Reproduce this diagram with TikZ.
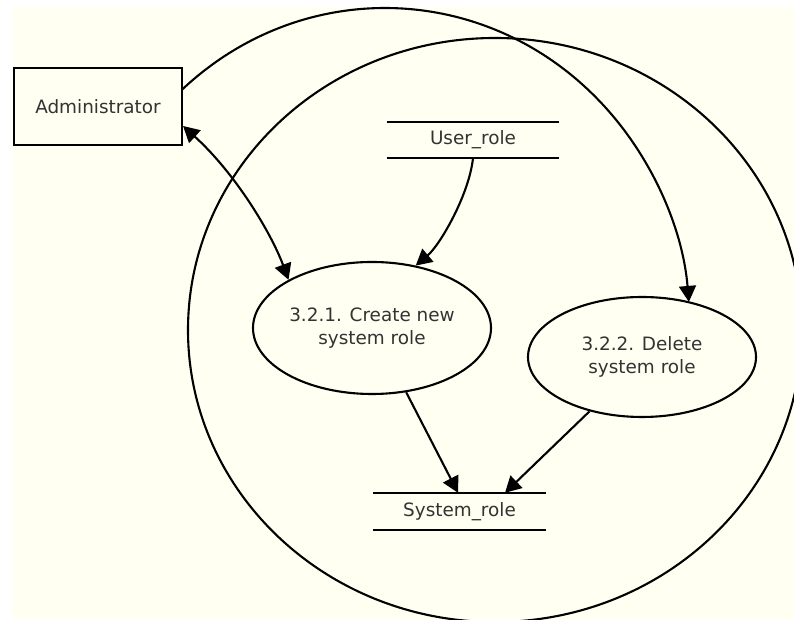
\documentclass[tikz,border=0pt]{standalone}
\usepackage{fontspec}
\setmainfont{DejaVu Sans}
\usetikzlibrary{arrows.meta,shapes.geometric}
\definecolor{cream}{RGB}{255,255,242}
\definecolor{txt}{RGB}{51,51,51}
\tikzset{
  ln/.style={line width=2.1pt, draw=black},
  tip/.style={-{Triangle[length=16pt,width=17pt]}},
  bitip/.style={{Triangle[length=16pt,width=17pt]}-{Triangle[length=16pt,width=17pt]}},
  lbl/.style={font=\fontsize{18.4}{23.3}\selectfont, align=center, inner sep=0pt},
  entity/.style={ln, lbl, text=txt, rectangle, minimum width=168pt, minimum height=77pt},
  proc/.style={ln, lbl, text=txt, ellipse},
  store/.style={lbl, text=txt, rectangle}
}
\begin{document}
\begin{tikzpicture}[x=1pt,y=1pt]
\useasboundingbox (0,0) rectangle (794,620);
\clip (0,0) rectangle (794,620);
\fill[white] (0,0) rectangle (794,620);
\fill[cream] (13,0) rectangle (794,613);

% nodes
\node[entity] (admin) at (98,513.5) {Administrator};
\node[store, minimum width=172pt, minimum height=36pt] (user) at (473,480) {User\_role};
\node[store, minimum width=173pt, minimum height=37pt] (sys) at (459.5,108.5) {System\_role};
\node[proc, minimum width=238pt, minimum height=132pt] (create) at (372,292) {3.2.1. Create new\\system role};
\node[proc, minimum width=228pt, minimum height=120pt] (delete) at (642,263) {3.2.2. Delete\\system role};

% store lines
\draw[ln] (user.north west) -- (user.north east);
\draw[ln] (user.south west) -- (user.south east);
\draw[ln] (sys.north west) -- (sys.north east);
\draw[ln] (sys.south west) -- (sys.south east);

% big loop
\coordinate (cB) at (495,290);
\draw[ln] (cB) ellipse [x radius=307pt, y radius=292pt];

% Administrator -> Delete (large arc)
\coordinate (cA) at (385,290);
\draw[ln, tip] ([shift={(131.7:305pt and 322pt)}]cA) arc[start angle=131.7, end angle=5, x radius=305pt, y radius=322pt];

% Administrator <-> Create
\draw[ln, bitip] ([yshift=-19.5pt]admin.east) .. controls (235,447) and (271,387.5) .. (create.150);

% User_role -> Create
\draw[ln, tip] (user.south) .. controls (469,425) and (440,375) .. (create.55);

% Create -> System_role, Delete -> System_role
\draw[ln, tip] (create.-62.7) -- ([xshift=-1.5pt]sys.north);
\draw[ln, tip] (delete.-134.5) -- ([xshift=45.5pt]sys.north);
\end{tikzpicture}
\end{document}
